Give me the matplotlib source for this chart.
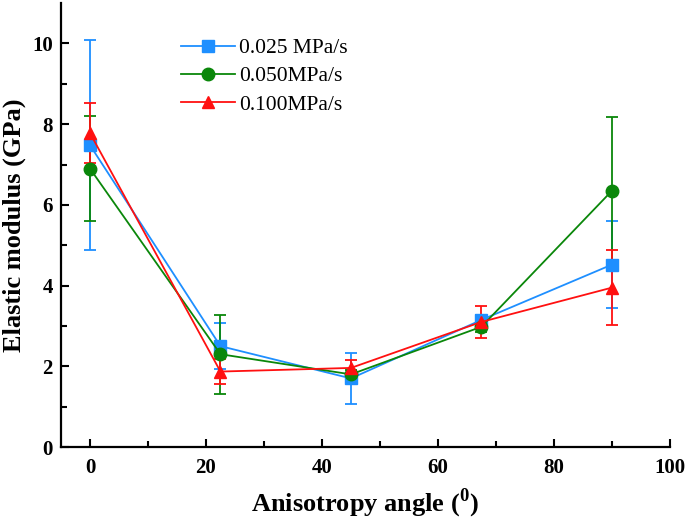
import numpy as np
import matplotlib
matplotlib.use("Agg")
import matplotlib.pyplot as plt
from matplotlib.lines import Line2D

plt.rcParams['font.family'] = ['Liberation Serif', 'DejaVu Serif']
plt.rcParams['mathtext.fontset'] = 'custom'
plt.rcParams['mathtext.bf'] = 'Liberation Serif:bold'
plt.rcParams['mathtext.rm'] = 'Liberation Serif'

# --- data ---
angle = [0, 22.5, 45, 67.5, 90]

labels = ["0.025 MPa/s", "0.050MPa/s", "0.100MPa/s"]

e025 = [7.48, 2.50, 1.70, 3.15, 4.52]
err025 = [2.60, 0.57, 0.64, 0.12, 1.08]

e050 = [6.90, 2.30, 1.80, 2.98, 6.35]
err050 = [1.30, 0.98, 0.10, 0.12, 1.83]

e100 = [7.78, 1.87, 1.96, 3.10, 3.95]
err100 = [0.74, 0.32, 0.20, 0.40, 0.92]

colors = ["#1E8FFF", "#0A870A", "#FF1010"]
markers = ["s", "o", "^"]

fig = plt.figure(figsize=(6.85, 5.21), dpi=100)
ax = fig.add_axes([0.089, 0.142, 0.889, 0.852])

handles = []
for vals, errs, lab, c, m in zip([e025, e050, e100], [err025, err050, err100],
                                  labels, colors, markers):
    ax.errorbar(angle, vals, yerr=errs, color=c, marker=m, markersize=9,
                linewidth=1.3, elinewidth=1.3, capsize=4.5, capthick=1.3)
    handles.append(Line2D([], [], color=c, marker=m, markersize=9,
                          linewidth=1.3, label=lab))

ax.set_xlim(-5, 100)
ax.set_ylim(0, 11)
ax.set_xticks([0, 20, 40, 60, 80, 100])
ax.set_xticks([10, 30, 50, 70, 90], minor=True)
ax.set_yticks([0, 2, 4, 6, 8, 10])
ax.set_yticks([1, 3, 5, 7, 9], minor=True)

ax.spines['top'].set_visible(False)
ax.spines['right'].set_visible(False)
for s in ['left', 'bottom']:
    ax.spines[s].set_linewidth(1.6)

ax.tick_params(which='both', direction='in', width=1.5)
ax.tick_params(which='major', length=6, labelsize=15)
ax.tick_params(axis='x', which='major', pad=8)
ax.tick_params(axis='y', which='major', pad=6)
ax.tick_params(which='minor', length=4)
for t in ax.get_xticklabels() + ax.get_yticklabels():
    t.set_fontweight('bold')

ax.set_xlabel(r"Anisotropy angle ($^{\mathbf{0}}$)", fontsize=19,
              fontweight='bold', labelpad=6)
ax.set_ylabel("Elastic modulus (GPa)", fontsize=19, fontweight='bold',
              labelpad=4)

ax.legend(handles=handles, loc='upper left', bbox_to_anchor=(0.165, 0.965),
          frameon=False, fontsize=15.5, handlelength=2.5, labelspacing=0.38,
          handletextpad=0.2)

fig.savefig("out.png", dpi=100)
